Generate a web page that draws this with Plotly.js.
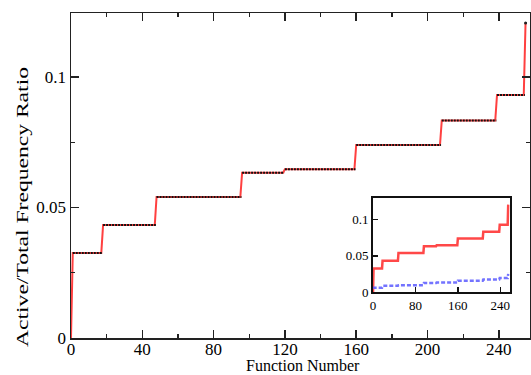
<!DOCTYPE html>
<html>
<head>
<meta charset="utf-8">
<script src="https://cdn.plot.ly/plotly-3.0.1.min.js"></script>
<style>html,body{margin:0;padding:0;background:#fff;}#chart{width:531px;height:375px;}</style>
</head>
<body>
<div id="chart"></div>
<script>
// Plateaus of the active/total frequency ratio (function number ranges)
var plateauStart = [1, 18, 48, 96, 120, 160, 208, 239, 255];
var plateauEnd   = [17, 47, 95, 119, 159, 207, 238, 254, 255];
var ratioLevels  = [0.0326, 0.0433, 0.054, 0.0633, 0.0646, 0.0739, 0.0833, 0.0931, 0.1207];
var ratioStart   = 0;
// Inset: second (blue dashed) series levels on the same plateaus
var insetBlueStart  = 0.005;
var insetBlueLevels = [0.006, 0.0085, 0.0095, 0.0125, 0.013, 0.0155, 0.0172, 0.0195, 0.025];

var xTicks = [0, 40, 80, 120, 160, 200, 240];
var yTicks = [0, 0.05, 0.1];
var yTickText = ['0', '0.05', '0.1'];
var insetXTicks = [0, 80, 160, 240];

function stepLine(start, levels) {
  var xs = [0], ys = [start];
  for (var i = 0; i < levels.length; i++) {
    xs.push(plateauStart[i]); ys.push(levels[i]);
    if (plateauEnd[i] !== plateauStart[i]) { xs.push(plateauEnd[i]); ys.push(levels[i]); }
  }
  return {x: xs, y: ys};
}
function plateauSegs(levels) {
  var xs = [], ys = [];
  for (var i = 0; i < levels.length; i++) {
    xs.push(plateauStart[i], plateauEnd[i] + 0.6, null);
    ys.push(levels[i], levels[i], null);
  }
  return {x: xs, y: ys};
}

var red = stepLine(ratioStart, ratioLevels);
var segs = plateauSegs(ratioLevels);
var blue = stepLine(insetBlueStart, insetBlueLevels);

var serif = 'Liberation Serif, Times New Roman, serif';

var traces = [
  {x: red.x, y: red.y, mode: 'lines', line: {color: 'rgba(255,30,30,0.85)', width: 2}, xaxis: 'x', yaxis: 'y', hoverinfo: 'skip'},
  {x: segs.x, y: segs.y, mode: 'lines', line: {color: '#111', width: 2, dash: '2px,1px'}, xaxis: 'x', yaxis: 'y', hoverinfo: 'skip'},
  {x: [255], y: [ratioLevels[8]], mode: 'markers', marker: {color: '#222', size: 3}, xaxis: 'x', yaxis: 'y', hoverinfo: 'skip'},
  {x: red.x, y: red.y, mode: 'lines', line: {color: 'rgba(255,40,40,0.85)', width: 2.5}, xaxis: 'x2', yaxis: 'y2', hoverinfo: 'skip'},
  {x: blue.x, y: blue.y, mode: 'lines', line: {color: 'rgba(90,90,255,0.85)', width: 2.5, dash: '4px,2px'}, xaxis: 'x2', yaxis: 'y2', hoverinfo: 'skip'}
];

var layout = {
  width: 531, height: 375,
  margin: {l: 71, r: 1, t: 13, b: 37},
  paper_bgcolor: '#fff', plot_bgcolor: '#fff',
  showlegend: false,
  font: {family: serif, color: '#000', size: 17},
  xaxis: {
    domain: [0, 1], range: [0, 257.5],
    tickvals: xTicks, ticks: 'inside', ticklen: 8, tickwidth: 1.5, tickcolor: '#222',
    ticklabelstandoff: -5,
    minor: {dtick: 20, tick0: 0, ticks: 'inside', ticklen: 4, tickwidth: 1.3, tickcolor: '#222'},
    showline: true, linecolor: '#222', linewidth: 1.5, mirror: 'ticks',
    showgrid: false, zeroline: false,
    tickfont: {family: serif, size: 17, color: '#000'}
  },
  yaxis: {
    domain: [0, 1], range: [0, 0.1245],
    tickvals: yTicks, ticktext: yTickText,
    ticks: 'inside', ticklen: 8, tickwidth: 1.5, tickcolor: '#222',
    minor: {dtick: 0.025, tick0: 0, ticks: 'inside', ticklen: 4, tickwidth: 1.3, tickcolor: '#222'},
    showline: true, linecolor: '#222', linewidth: 1.5, mirror: 'ticks',
    showgrid: false, zeroline: false,
    tickfont: {family: serif, size: 17, color: '#000'}
  },
  xaxis2: {
    domain: [0.658, 0.956], anchor: 'y2', range: [0, 258],
    tickvals: insetXTicks, ticks: 'inside', ticklen: 5, tickwidth: 1.5, tickcolor: '#111',
    showline: true, linecolor: '#111', linewidth: 2, mirror: true,
    showgrid: false, zeroline: false,
    tickfont: {family: serif, size: 13, color: '#000'}
  },
  yaxis2: {
    domain: [0.1415, 0.431], anchor: 'x2', range: [0, 0.13],
    tickvals: yTicks, ticktext: yTickText,
    ticks: 'inside', ticklen: 5, tickwidth: 1.5, tickcolor: '#111',
    showline: true, linecolor: '#111', linewidth: 2, mirror: true,
    showgrid: false, zeroline: false,
    tickfont: {family: serif, size: 13, color: '#000'}
  },
  annotations: [{
    text: 'Active/Total Frequency Ratio', textangle: -90,
    xref: 'paper', yref: 'paper', x: -0.107, y: 0.403,
    xanchor: 'center', yanchor: 'middle', showarrow: false,
    font: {family: serif, size: 17, color: '#000'}
  }, {
    text: 'Function Number',
    xref: 'paper', yref: 'paper', x: 0.505, y: -0.086,
    xanchor: 'center', yanchor: 'middle', showarrow: false,
    font: {family: serif, size: 16, color: '#000'}
  }]
};

Plotly.newPlot('chart', traces, layout, {staticPlot: true, displayModeBar: false}).then(function () {
  var t = document.querySelector('.annotation-text');
  if (t) { t.setAttribute('textLength', '280'); t.setAttribute('lengthAdjust', 'spacingAndGlyphs'); }
});
</script>
</body>
</html>
